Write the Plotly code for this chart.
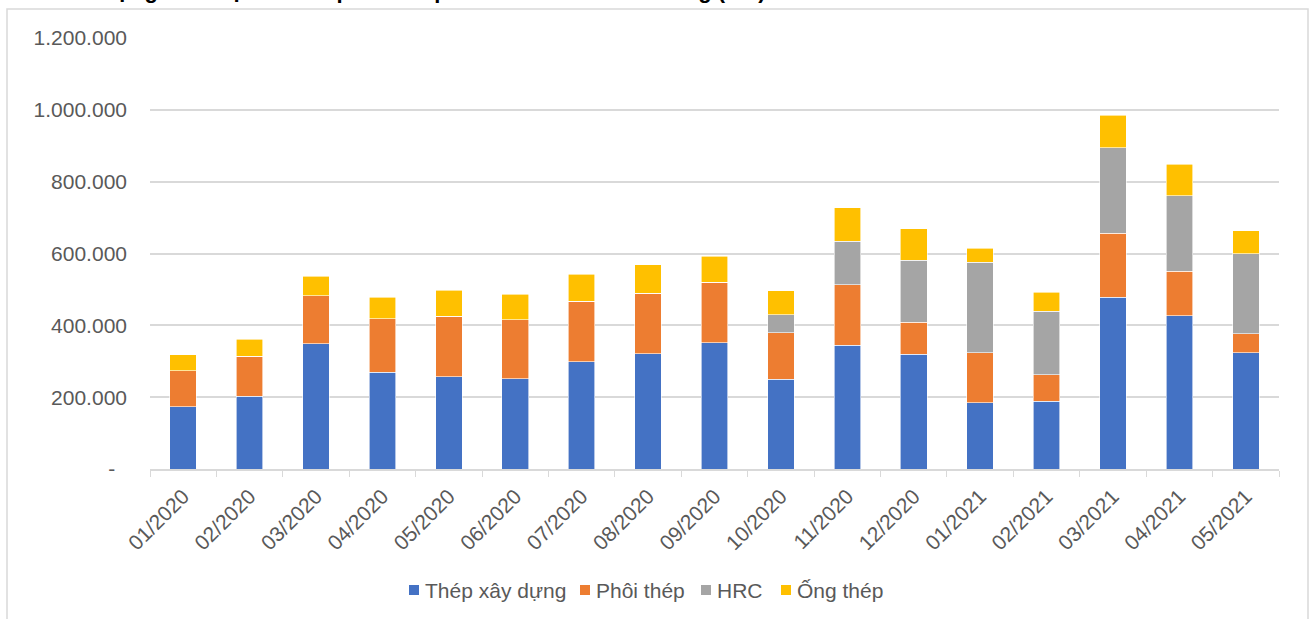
import plotly.graph_objects as go

# Monthly sales volume by product line (tonnes)
months = ["01/2020", "02/2020", "03/2020", "04/2020", "05/2020", "06/2020",
          "07/2020", "08/2020", "09/2020", "10/2020", "11/2020", "12/2020",
          "01/2021", "02/2021", "03/2021", "04/2021", "05/2021"]

thep_xay_dung = [173000, 203000, 349000, 269000, 257000, 251000, 298000, 321000,
                 352000, 250000, 344000, 319000, 184000, 189000, 478000, 427000, 324000]
phoi_thep = [100000, 111000, 133000, 149000, 169000, 164000, 169000, 169000,
             168000, 129000, 169000, 90000, 140000, 74000, 178000, 123000, 52000]
hrc = [0, 0, 0, 0, 0, 0, 0, 0,
       0, 50000, 121000, 172000, 251000, 176000, 238000, 211000, 223000]
ong_thep = [45000, 47000, 55000, 60000, 72000, 72000, 75000, 78000,
            72000, 67000, 93000, 88000, 40000, 53000, 91000, 87000, 64000]

series = [
    ("Thép xây dựng", thep_xay_dung, "#4472C4"),
    ("Phôi thép", phoi_thep, "#ED7D31"),
    ("HRC", hrc, "#A5A5A5"),
    ("Ống thép", ong_thep, "#FFC000"),
]

y_ticks = [0, 200000, 400000, 600000, 800000, 1000000, 1200000]
y_tick_text = ["-\u00a0\u00a0", "200.000", "400.000", "600.000", "800.000",
               "1.000.000", "1.200.000"]

title_text = "Sản lượng tiêu thụ các sản phẩm thép của Hòa Phát theo tháng (tấn)"

W, H = 1309, 619
ML, MR, MT, MB = 150, 30, 38, 150
PW, PH = W - ML - MR, H - MT - MB


def px_x(px):
    return (px - ML) / PW


def px_y(py):
    return (H - MB - py) / PH


fig = go.Figure()
for name, vals, color in series:
    fig.add_trace(go.Bar(
        x=months, y=vals, name=name, showlegend=False,
        marker=dict(color=color, line=dict(color="white", width=0.6)),
    ))

font_color = "#595959"
font_family = "Liberation Sans, Arial, sans-serif"

# Legend row below the axis: colour squares with labels
legend_left = [409, 580, 701, 781]
legend_y = 590
shapes = [
    dict(type="rect", xref="paper", yref="paper",
         x0=px_x(7), x1=px_x(1308), y0=px_y(640), y1=px_y(9),
         line=dict(color="#D9D9D9", width=1.5), fillcolor="rgba(0,0,0,0)",
         layer="below"),
]
annotations = [
    dict(text="<b>" + title_text + "</b>", xref="paper", yref="paper",
         x=px_x(768), xanchor="right", y=px_y(5), yanchor="bottom",
         showarrow=False, font=dict(size=22, color="black", family=font_family)),
]
for (name, _, color), lx in zip(series, legend_left):
    shapes.append(dict(type="rect", xref="paper", yref="paper",
                       x0=px_x(lx), x1=px_x(lx + 10),
                       y0=px_y(legend_y + 5), y1=px_y(legend_y - 5),
                       line=dict(width=0), fillcolor=color))
    annotations.append(dict(text=name, xref="paper", yref="paper",
                            x=px_x(lx + 14), xanchor="left",
                            y=px_y(legend_y), yanchor="middle",
                            showarrow=False,
                            font=dict(size=21, color=font_color, family=font_family)))

fig.update_layout(
    barmode="stack",
    bargap=0.6,
    width=W, height=H,
    margin=dict(l=ML, r=MR, t=MT, b=MB, autoexpand=False),
    paper_bgcolor="white",
    plot_bgcolor="white",
    font=dict(family=font_family, size=21, color=font_color),
    showlegend=False,
    xaxis=dict(
        type="category",
        tickangle=-45,
        showgrid=False, automargin=False,
        showline=True, linecolor="#D9D9D9", linewidth=1.5,
        ticks="outside", tickson="boundaries", ticklen=6, tickcolor="#D9D9D9",
        ticklabelstandoff=5,
        tickfont=dict(size=21, color=font_color),
    ),
    yaxis=dict(
        range=[0, 1200000], automargin=False,
        tickvals=y_ticks, ticktext=y_tick_text,
        showgrid=True, gridcolor="#D9D9D9", gridwidth=1.5,
        zeroline=False, showline=False,
        ticks="", ticklabelstandoff=22,
        tickfont=dict(size=21, color=font_color),
    ),
    shapes=shapes,
    annotations=annotations,
)

fig.write_html("out.html")
